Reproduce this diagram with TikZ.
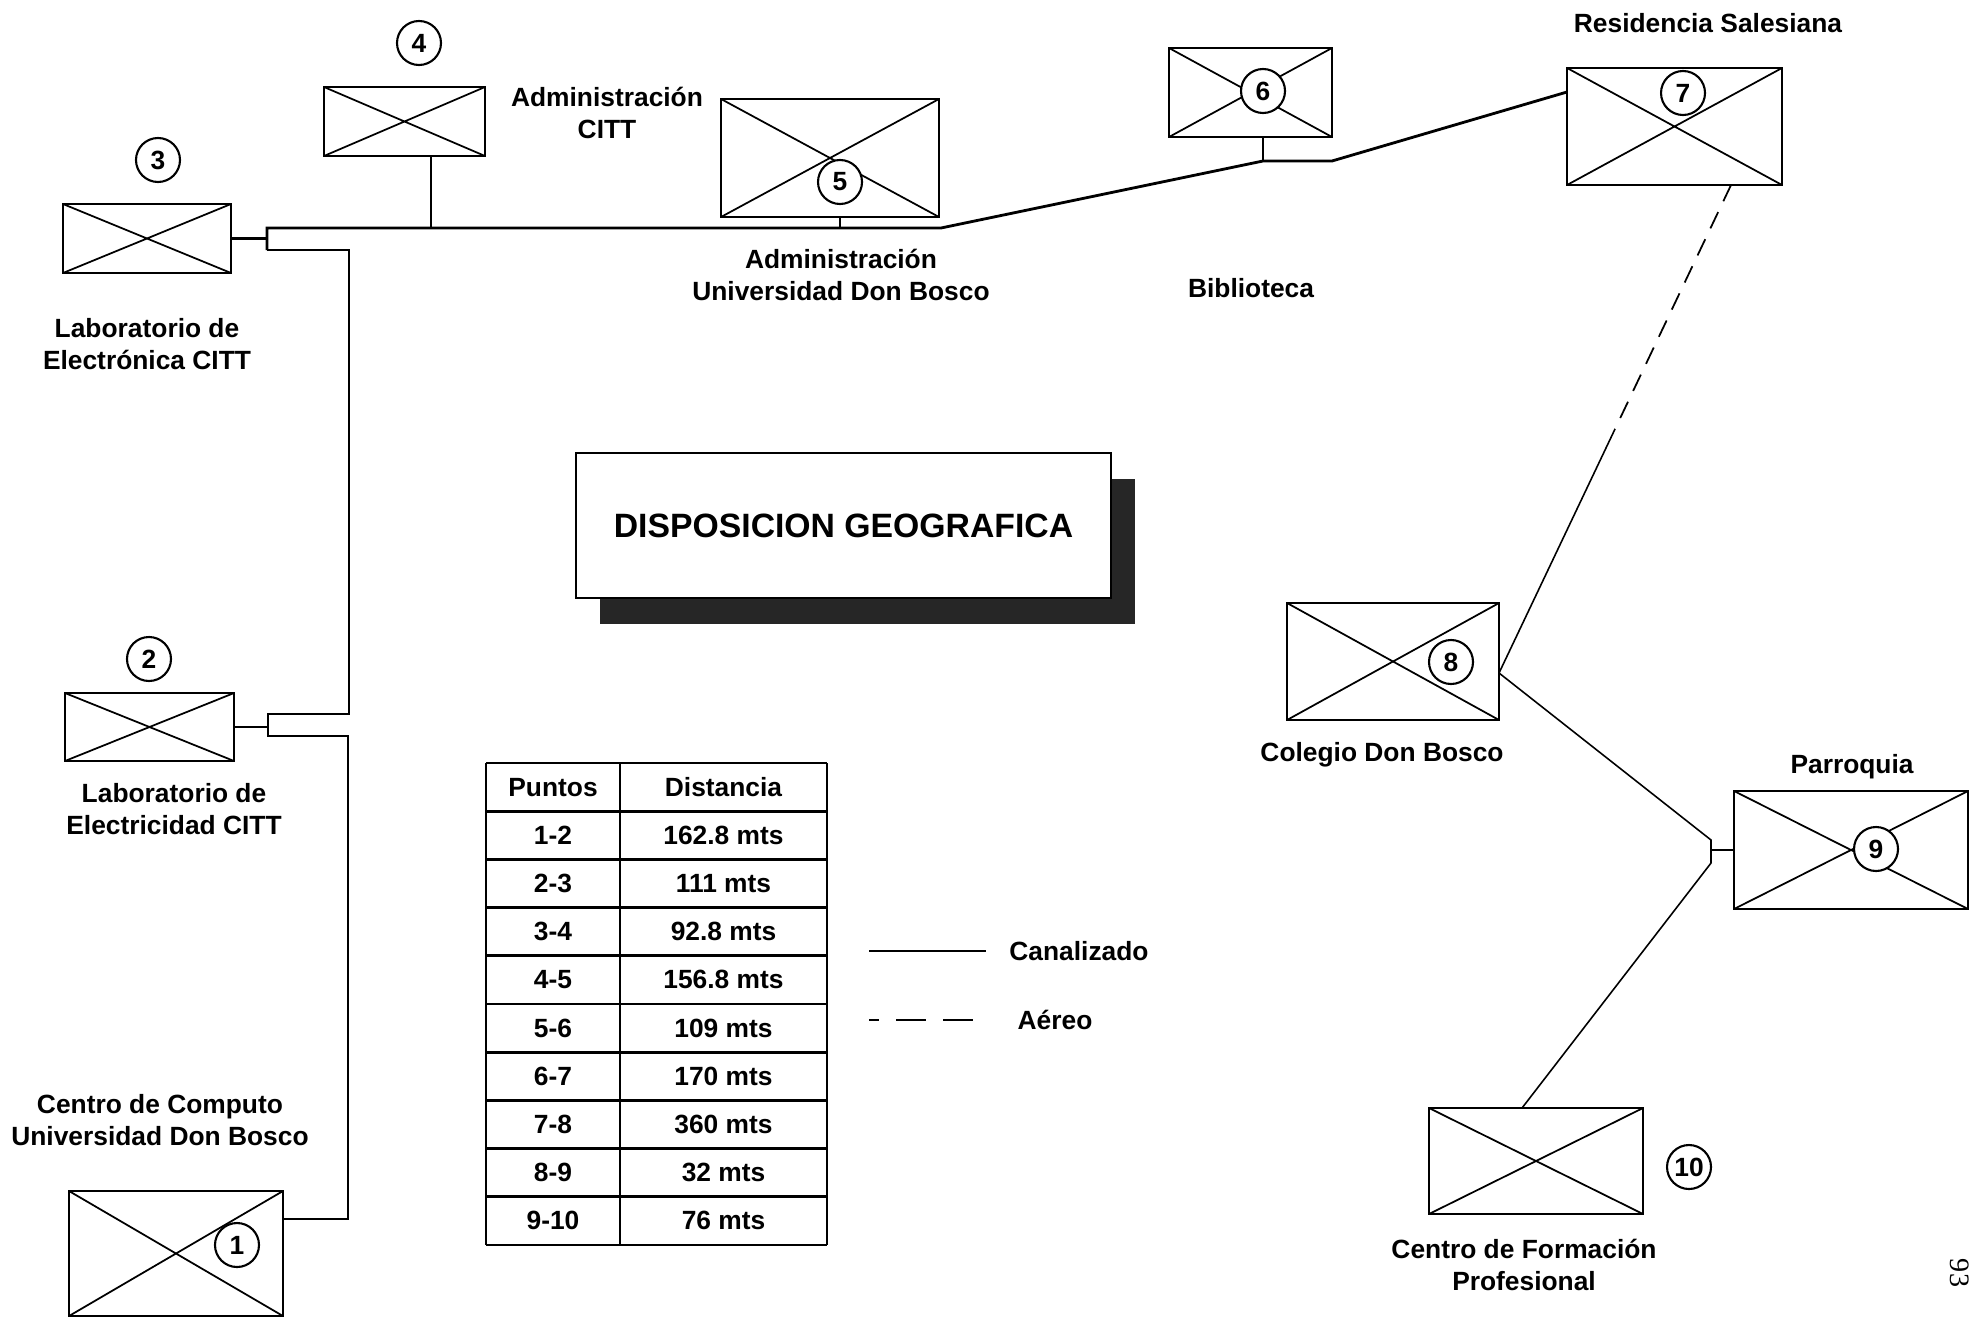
\documentclass[tikz,border=0pt]{standalone}
\usepackage{fontspec}
\setmainfont{Liberation Sans}
\newfontfamily\paginafont{Liberation Serif}
\usetikzlibrary{shadows}

\begin{document}
\begin{tikzpicture}[
    edificio/.style={draw, line width=0.6pt, inner sep=0pt,
        path picture={\draw[line width=0.5pt]
            (path picture bounding box.north west) -- (path picture bounding box.south east)
            (path picture bounding box.south west) -- (path picture bounding box.north east);}},
    numero/.style={circle, draw, line width=0.6pt, fill=white, minimum size=0.44cm,
        inner sep=0pt, font=\fontsize{7.5}{9}\selectfont\bfseries},
    rotulo/.style={align=center, inner sep=1pt, font=\fontsize{7.5}{9.1}\selectfont\bfseries},
    canalizado/.style={line width=0.8pt},
    ramal/.style={line width=0.45pt},
    aereo/.style={line width=0.5pt, dash pattern=on 1.8mm off 1.2mm},
]

% ===== Marco =====
\useasboundingbox (0,0) rectangle (19.70,13.21);

% ===== Edificios =====
\foreach \n/\x/\y/\w/\h in {1/1.76/0.675/2.14/1.25, 2/1.495/5.94/1.69/0.68,
    3/1.47/10.825/1.68/0.69, 4/4.045/11.995/1.61/0.69, 5/8.30/11.63/2.18/1.18,
    6/12.505/12.285/1.63/0.89, 7/16.745/11.945/2.15/1.17, 8/13.93/6.595/2.12/1.17,
    9/18.51/4.71/2.34/1.18, 10/15.36/1.60/2.14/1.06} {
    \node[edificio, minimum width=\w cm, minimum height=\h cm] (b\n) at (\x,\y) {};
}

% ===== Numeros =====
\foreach \n/\x/\y in {1/2.37/0.76, 2/1.49/6.62, 3/1.58/11.61, 4/4.19/12.78,
    5/8.40/11.39, 6/12.63/12.30, 7/16.83/12.28, 8/14.51/6.59, 9/18.76/4.72,
    10/16.89/1.54} {
    \node[numero] (n\n) at (\x,\y) {\n};
}

% ===== Rotulos =====
\node[rotulo] (r3) at (1.47,9.77) {Laboratorio de\\Electrónica CITT};
\node[rotulo] (r4) at (6.07,12.085) {Administración\\CITT};
\node[rotulo] (r5) at (8.41,10.46) {Administración\\Universidad Don Bosco};
\node[rotulo] (r6) at (12.51,10.33) {Biblioteca};
\node[rotulo] (r7) at (17.08,12.98) {Residencia Salesiana};
\node[rotulo] (r2) at (1.74,5.12) {Laboratorio de\\Electricidad CITT};
\node[rotulo] (r1) at (1.60,2.01) {Centro de Computo\\Universidad Don Bosco};
\node[rotulo] (r8) at (13.82,5.66) {Colegio Don Bosco};
\node[rotulo] (r9) at (18.52,5.54) {Parroquia};
\node[rotulo] (r10) at (15.24,0.56) {Centro de Formación\\Profesional};

% ===== Tramo principal =====
\coordinate (e3) at (2.67,10.825);
\coordinate (e3a) at (2.67,10.93);
\coordinate (e3b) at (2.67,10.71);
\coordinate (t4) at (4.31,10.93);
\coordinate (t5) at (8.40,10.93);
\coordinate (q5) at (9.41,10.93);
\coordinate (t6) at (12.63,11.60);
\coordinate (q6) at (13.32,11.60);
\coordinate (e7) at (15.67,12.29);

\draw[canalizado] (b3.east) -- (e3);
\draw[canalizado] (e3b) -- (e3a) -- (t4) -- (t5) -- (q5) -- (t6) -- (q6) -- (e7);
\draw[ramal] (t4) -- (t4 |- b4.south);
\draw[ramal] (t5) -- (t5 |- b5.south);
\draw[ramal] (t6) -- (t6 |- b6.south);

% ===== Ramal hacia 2 y 1 =====
\coordinate (v1) at (3.49,10.71);
\coordinate (v2) at (3.49,6.07);
\coordinate (e2a) at (2.68,6.07);
\coordinate (e2) at (2.68,5.94);
\coordinate (e2b) at (2.68,5.85);
\coordinate (v3) at (3.48,5.85);
\coordinate (v4) at (3.48,1.02);

\draw[ramal] (e3b) -- (v1) -- (v2) -- (e2a) -- (e2b) -- (v3) -- (v4) -- (v4 -| b1.east);
\draw[ramal] (b2.east) -- (e2);

% ===== Ramal 7 - 8 - 9 - 10 =====
\coordinate (s7) at (17.31,11.36);
\coordinate (m78) at (16.15,8.92);
\coordinate (k8) at (14.99,6.48);
\coordinate (j9a) at (17.11,4.81);
\coordinate (j9) at (17.11,4.71);
\coordinate (j9b) at (17.11,4.58);
\coordinate (t10) at (15.22,2.13);

\draw[aereo] (s7) -- (m78);
\draw[ramal] (m78) -- (k8);
\draw[ramal] (k8) -- (j9a) -- (j9b) -- (t10);
\draw[ramal] (j9) -- (b9.west);

% ===== Titulo =====
\node[draw, line width=0.6pt, fill=white, minimum width=5.35cm, minimum height=1.45cm,
    drop shadow={shadow xshift=0.24cm, shadow yshift=-0.26cm, fill=black!85, opacity=1},
    font=\fontsize{9.6}{11}\selectfont\bfseries] (titulo) at (8.435,7.955) {DISPOSICION GEOGRAFICA};

% ===== Tabla de distancias =====
\foreach \k in {0,...,10} {
    \draw[line width=0.8pt] (4.86,{5.58-0.482*\k}) -- (8.27,{5.58-0.482*\k});
}
\foreach \x in {4.86,6.20,8.27} {
    \draw[line width=0.4pt] (\x,5.58) -- (\x,0.76);
}
\node[rotulo] (p0) at (5.53,5.339) {Puntos};
\node[rotulo] (d0) at (7.235,5.339) {Distancia};
\foreach \p/\d [count=\i] in {1-2/162.8 mts, 2-3/111 mts, 3-4/92.8 mts, 4-5/156.8 mts,
    5-6/109 mts, 6-7/170 mts, 7-8/360 mts, 8-9/32 mts, 9-10/76 mts} {
    \node[rotulo] (p\i) at (5.53,{5.339-0.482*\i}) {\p};
    \node[rotulo] (d\i) at (7.235,{5.339-0.482*\i}) {\d};
}

% ===== Leyenda =====
\node[rotulo] (canal) at (10.79,3.70) {Canalizado};
\node[rotulo] (aereo) at (10.55,3.01) {Aéreo};
\coordinate (l1) at (8.69,3.70);
\coordinate (l2) at (8.69,3.01);
\draw[ramal] (l1) -- (l1 -| 9.86,0);
\draw[aereo, dash pattern=on 3mm off 1.7mm, dash phase=2mm] (l2) -- (l2 -| 9.77,0);

% ===== Pagina =====
\node[rotate=-90, font=\paginafont\fontsize{8}{9}\selectfont] (pag) at (19.60,0.48) {93};

\end{tikzpicture}
\end{document}
